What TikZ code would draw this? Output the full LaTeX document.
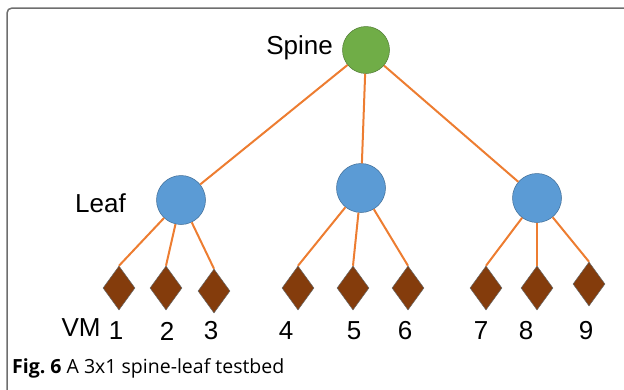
\documentclass[tikz,border=0pt]{standalone}
\usepackage{fontspec}
\setmainfont{Liberation Sans}
\newfontfamily\capfont{Open Sans}
\usetikzlibrary{shapes.geometric}
\definecolor{linkorange}{HTML}{ED7D31}
\definecolor{spinegreen}{HTML}{70AD47}
\definecolor{leafblue}{HTML}{5B9BD5}
\definecolor{vmbrown}{HTML}{843C0C}
\definecolor{framegray}{HTML}{6E6E6E}
\tikzset{
  spinenode/.style={circle, fill=spinegreen, draw=spinegreen!70!black, line width=0.5pt, minimum size=47pt, inner sep=0pt},
  leafnode/.style={circle, fill=leafblue, draw=leafblue!70!black, line width=0.5pt, minimum size=49pt, inner sep=0pt},
  vmnode/.style={diamond, fill=vmbrown, draw=gray!80!black, line width=0.5pt, minimum width=32pt, minimum height=44pt, inner sep=0pt},
  link/.style={draw=linkorange, line width=2pt},
  lbl/.style={font=\fontsize{26}{28}\selectfont, inner sep=0pt},
}
\begin{document}
\begin{tikzpicture}[x=1pt, y=-1pt]
  \useasboundingbox (0,0) rectangle (624,389);
  % open frame around the figure
  \draw[framegray, line width=1.5pt, rounded corners=5pt] (7,395) -- (7,8) -- (630,8);

  % switches
  \node[spinenode] (spine) at (366,50) {};
  \node[leafnode] (leafA) at (181,200) {};
  \node[leafnode] (leafB) at (361,188) {};
  \node[leafnode] (leafC) at (537,198) {};

  % virtual machines
  \node[vmnode] (vm1) at (119,288) {};
  \node[vmnode] (vm2) at (166,288) {};
  \node[vmnode] (vm3) at (214,291) {};
  \node[vmnode] (vm4) at (298,288) {};
  \node[vmnode] (vm5) at (353,288) {};
  \node[vmnode] (vm6) at (408,288) {};
  \node[vmnode] (vm7) at (486,288) {};
  \node[vmnode] (vm8) at (537,288) {};
  \node[vmnode] (vm9) at (589,284) {};

  % links
  \foreach \l in {leafA,leafB,leafC} \draw[link] (spine) -- (\l);
  \draw[link] (leafA) -- (vm1.north);
  \draw[link] (leafA) -- (vm2.north);
  \draw[link] (leafA) -- (vm3.north);
  \draw[link] (leafB) -- (vm4.north);
  \draw[link] (leafB) -- (vm5.north);
  \draw[link] (leafB) -- (vm6.north);
  \draw[link] (leafC) -- (vm7.north);
  \draw[link] (leafC) -- (vm8.north);
  \draw[link] (leafC) -- (vm9.north);

  % labels
  \node[lbl, anchor=east] (tspine) at (333,48) {Spine};
  \node[lbl, anchor=west] (tleaf) at (75,203) {Leaf};
  \node[lbl] (tvm) at (81,328) {VM};
  \node[lbl] (n1) at (116,331) {1};
  \node[lbl] (n2) at (167,331) {2};
  \node[lbl] (n3) at (211,331) {3};
  \node[lbl] (n4) at (286,331) {4};
  \node[lbl] (n5) at (354,331) {5};
  \node[lbl] (n6) at (405,331) {6};
  \node[lbl] (n7) at (481,331) {7};
  \node[lbl] (n8) at (526,331) {8};
  \node[lbl] (n9) at (586,331) {9};

  % caption
  \node[anchor=west, inner sep=0pt, font=\capfont\fontsize{19.5}{22}\selectfont] (cap) at (12,368)
    {\textbf{Fig.\ 6} A 3x1 spine-leaf testbed};
\end{tikzpicture}
\end{document}
